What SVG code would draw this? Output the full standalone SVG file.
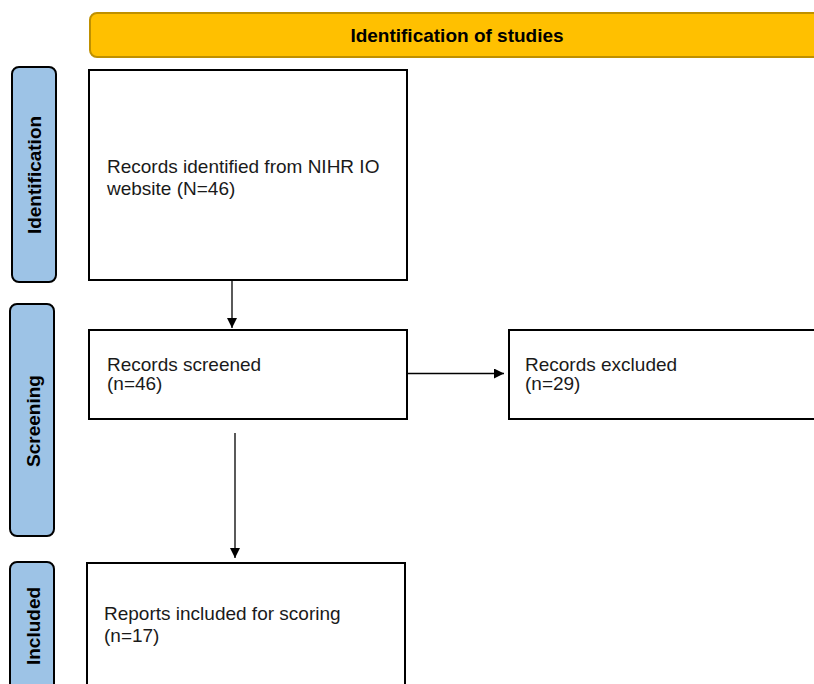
<svg xmlns="http://www.w3.org/2000/svg" width="814" height="684" viewBox="0 0 814 684">
<defs>
<marker id="ah" markerWidth="10" markerHeight="10" refX="10" refY="5" orient="auto" markerUnits="userSpaceOnUse">
<path d="M0,0 L10,5 L0,10 Z" fill="#000"/>
</marker>
<style>
.box{fill:#fff;stroke:#000;stroke-width:2}
.side{fill:#9DC3E6;stroke:#000;stroke-width:2}
.t{font-family:"Liberation Sans",Arial,sans-serif;font-size:19px;fill:#1a1a1a}
.st{font-family:"Liberation Sans",Arial,sans-serif;font-size:19px;font-weight:bold;fill:#000}
.c{stroke:#000;stroke-width:1.3;fill:none}
</style>
</defs>
<rect width="814" height="684" fill="#fff"/>
<g id="header">
<rect x="90" y="13" width="740" height="44" rx="7" fill="#FFC000" stroke="#BF9000" stroke-width="2"/>
<text class="st" x="457" y="42" text-anchor="middle">Identification of studies</text>
</g>
<g id="lbl-identification">
<rect class="side" x="12" y="67" width="44" height="215" rx="7"/>
<text class="st" transform="translate(41,175) rotate(-90)" text-anchor="middle">Identification</text>
</g>
<g id="lbl-screening">
<rect class="side" x="10" y="304" width="44" height="232" rx="7"/>
<text class="st" transform="translate(40,421) rotate(-90)" text-anchor="middle">Screening</text>
</g>
<g id="lbl-included">
<rect class="side" x="10" y="562" width="44" height="140" rx="7"/>
<text class="st" transform="translate(40,626) rotate(-90)" text-anchor="middle">Included</text>
</g>
<g id="identified">
<rect class="box" x="89" y="70" width="318" height="210"/>
<text class="t" x="107" y="173">Records identified from NIHR IO</text>
<text class="t" x="107" y="195">website (N=46)</text>
</g>
<g id="screened">
<rect class="box" x="89" y="330" width="318" height="89"/>
<text class="t" x="107" y="371">Records screened</text>
<text class="t" x="107" y="390">(n=46)</text>
</g>
<g id="excluded">
<rect class="box" x="509" y="330" width="320" height="89"/>
<text class="t" x="525" y="371">Records excluded</text>
<text class="t" x="525" y="390">(n=29)</text>
</g>
<g id="included">
<rect class="box" x="87" y="563" width="318" height="140"/>
<text class="t" x="104" y="620">Reports included for scoring</text>
<text class="t" x="104" y="642">(n=17)</text>
</g>
<g id="connectors">
<line class="c" x1="232" y1="281" x2="232" y2="328" marker-end="url(#ah)"/>
<line class="c" x1="408" y1="373.5" x2="504" y2="373.5" marker-end="url(#ah)"/>
<line class="c" x1="235" y1="433" x2="235" y2="558" marker-end="url(#ah)"/>
</g>
</svg>
